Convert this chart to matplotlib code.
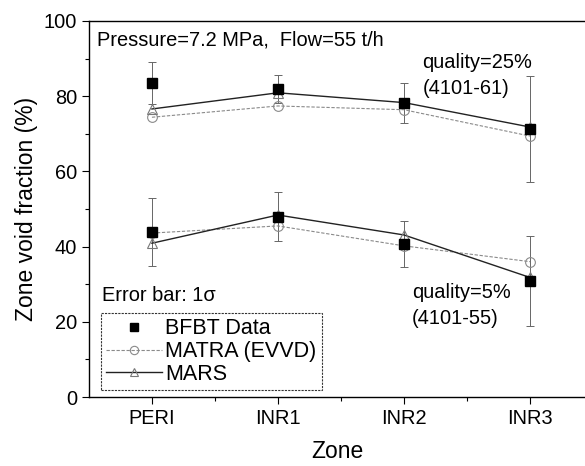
import matplotlib
matplotlib.use("Agg")
import matplotlib.pyplot as plt
from matplotlib.ticker import MultipleLocator, FixedLocator

plt.rcParams['font.family'] = ['Liberation Sans', 'DejaVu Sans']

zones = ["PERI", "INR1", "INR2", "INR3"]
x = [1, 2, 3, 4]

# quality = 25% (4101-61)
bfbt_hi = [83.5, 81.9, 78.2, 71.3]
bfbt_hi_err = [5.7, 3.7, 5.2, 14.0]
matra_hi = [74.4, 77.4, 76.4, 69.4]
mars_hi = [76.6, 80.9, 78.3, 71.8]

# quality = 5% (4101-55)
bfbt_lo = [43.9, 47.9, 40.7, 30.8]
bfbt_lo_err = [9.0, 6.5, 6.1, 12.0]
matra_lo = [43.6, 45.5, 40.2, 36.0]
mars_lo = [40.9, 48.4, 43.1, 31.8]

fig = plt.figure(figsize=(5.85, 4.66), dpi=100)
ax = fig.add_axes([0.152, 0.148, 0.848, 0.807])

gray = '#8a8a8a'
for b, e, m, r in [(bfbt_hi, bfbt_hi_err, matra_hi, mars_hi), (bfbt_lo, bfbt_lo_err, matra_lo, mars_lo)]:
    ax.errorbar(x, b, yerr=e, fmt='none', ecolor='#666666', elinewidth=0.7, capsize=3, capthick=0.7, zorder=2)
    ax.plot(x, m, color=gray, ls='--', dashes=(3, 1.5), lw=0.8, marker='o', ms=7,
            mfc='none', mec=gray, mew=0.8, zorder=3)
    ax.plot(x, r, color='#222222', ls='-', lw=1.0, marker='^', ms=7,
            mfc='none', mec='#777777', mew=0.8, zorder=3)
    ax.plot(x, b, ls='none', marker='s', ms=7, color='black', zorder=4)

# legend proxies
h1, = ax.plot([], [], ls='none', marker='s', ms=6, color='black')
h2, = ax.plot([], [], color=gray, ls='--', dashes=(3, 1.5), lw=0.8, marker='o', ms=6, mfc='none', mec=gray, mew=0.8)
h3, = ax.plot([], [], color='#222222', ls='-', lw=1.0, marker='^', ms=6, mfc='none', mec='#777777', mew=0.8)
leg = ax.legend([h1, h2, h3], ["BFBT Data", "MATRA (EVVD)", "MARS"], loc='lower left',
                bbox_to_anchor=(0.024, 0.018), fontsize=15.5, frameon=True, fancybox=False,
                edgecolor='black', handlelength=2.6, handletextpad=0.15, borderpad=0.25,
                labelspacing=0.08, borderaxespad=0)
leg.get_frame().set_linewidth(0.8)
leg.get_frame().set_linestyle((0, (2, 1)))

ax.set_xlim(0.5, 4.437)
ax.set_ylim(0, 100)
ax.xaxis.set_major_locator(FixedLocator(x))
ax.set_xticklabels(zones)
ax.xaxis.set_minor_locator(FixedLocator([1.5, 2.5, 3.5]))
ax.yaxis.set_major_locator(MultipleLocator(20))
ax.yaxis.set_minor_locator(MultipleLocator(10))
ax.tick_params(which='major', direction='out', length=5, width=0.8, labelsize=14.4)
ax.tick_params(which='minor', direction='out', length=3, width=0.8)
ax.spines['right'].set_visible(False)
for s in ['left', 'bottom', 'top']:
    ax.spines[s].set_linewidth(1.0)

ax.set_xlabel("Zone", fontsize=16.5, labelpad=9)
ax.set_ylabel("Zone void fraction (%)", fontsize=16.5, labelpad=4)

tk = dict(fontsize=14.4, transform=ax.transAxes, va='center', ha='left')
ax.text(0.016, 0.949, "Pressure=7.2 MPa,  Flow=55 t/h", **tk)
ax.text(0.672, 0.889, "quality=25%", **tk)
ax.text(0.672, 0.82, "(4101-61)", **tk)
ax.text(0.026, 0.27, "Error bar: 1\u03c3", **tk)
ax.text(0.651, 0.277, "quality=5%", **tk)
ax.text(0.651, 0.21, "(4101-55)", **tk)

fig.savefig("out.png", dpi=100)
